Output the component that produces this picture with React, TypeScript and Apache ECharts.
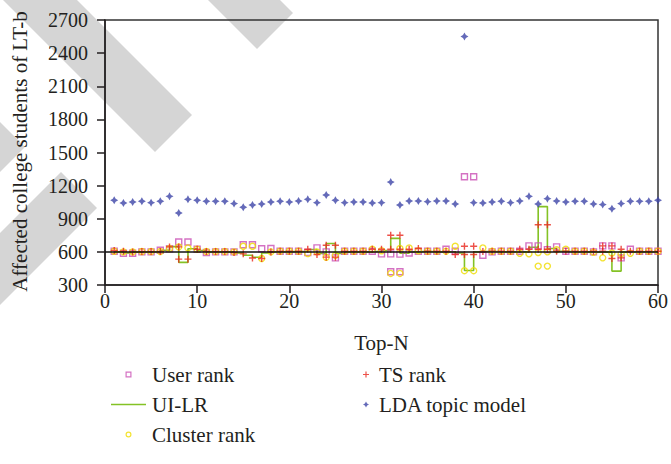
import React, { useEffect, useRef } from "react";
import * as echarts from "echarts";

// ---- data ----
const topN = [
  1, 2, 3, 4, 5, 6, 7, 8, 9, 10, 11, 12, 13, 14, 15, 16, 17, 18, 19, 20,
  21, 22, 23, 24, 25, 26, 27, 28, 29, 30, 31, 32, 33, 34, 35, 36, 37, 38, 39, 40,
  41, 42, 43, 44, 45, 46, 47, 48, 49, 50, 51, 52, 53, 54, 55, 56, 57, 58, 59, 60,
];

const userRank = [
  606, 588, 588, 600, 600, 615, 628, 690, 690, 624,
  594, 600, 600, 600, 665, 665, 628, 630, 606, 606,
  606, 594, 636, 600, 546, 606, 606, 606, 606, 582,
  582, 580, 590, 606, 606, 606, 624, 606, 1280, 1280,
  570, 600, 606, 606, 606, 654, 654, 620, 645, 606,
  606, 606, 600, 654, 654, 546, 624, 606, 606, 606,
];
const userRankExtra = [[31, 420], [32, 420]];

const uiLr = [
  600, 590, 598, 600, 600, 615, 648, 505, 628, 612,
  600, 600, 600, 590, 570, 552, 590, 600, 602, 602,
  605, 622, 585, 676, 585, 600, 600, 600, 605, 612,
  722, 588, 600, 605, 600, 600, 600, 590, 432, 600,
  605, 600, 600, 600, 600, 642, 1010, 630, 605, 600,
  600, 600, 598, 600, 426, 598, 600, 600, 600, 600,
];

const clusterRank = [
  606, 600, 600, 603, 603, 603, 630, 645, 636, 624,
  603, 603, 603, 600, 651, 651, 540, 600, 606, 606,
  606, 585, 600, 552, 570, 606, 606, 606, 624, 610,
  405, 405, 636, 610, 606, 606, 606, 651, 430, 430,
  636, 606, 606, 606, 588, 582, 471, 471, 620, 624,
  606, 606, 596, 546, 590, 582, 588, 606, 606, 606,
];
const clusterRankExtra = [[32, 630], [47, 595], [48, 600]];

const tsRank = [
  612, 606, 600, 603, 603, 603, 645, 534, 534, 624,
  603, 603, 603, 594, 582, 545, 540, 600, 606, 606,
  606, 624, 576, 552, 552, 606, 606, 606, 624, 624,
  750, 750, 624, 630, 606, 606, 606, 576, 576, 576,
  603, 606, 606, 606, 624, 624, 846, 846, 606, 606,
  606, 606, 606, 606, 540, 546, 606, 606, 606, 606,
];
const tsRankExtra = [
  [8, 645], [24, 660], [25, 660], [31, 624], [32, 624], [39, 651], [40, 651],
  [47, 624], [48, 624], [54, 654], [55, 654], [56, 624],
];

const ldaTopic = [
  1067, 1043, 1052, 1058, 1046, 1058, 1103, 952, 1076, 1067,
  1058, 1058, 1058, 1037, 1004, 1025, 1034, 1052, 1058, 1052,
  1061, 1076, 1046, 1115, 1067, 1046, 1052, 1052, 1043, 1046,
  1232, 1025, 1061, 1061, 1055, 1061, 1061, 1034, 2550, 1046,
  1043, 1052, 1058, 1046, 1061, 1103, 1034, 1082, 1061, 1052,
  1058, 1058, 1034, 1028, 990, 1037, 1058, 1058, 1058, 1067,
];

const baselineValue = 600;
const xRange = [0, 60];
const yTicks = [300, 600, 900, 1200, 1500, 1800, 2100, 2400, 2700];

// ---- styling ----
const FONT = "'Liberation Serif', 'Times New Roman', serif";
const TEXT = "#231f20";
const C_USER = "#c94fb4";
const C_UILR = "#84c225";
const C_CLUSTER = "#f0dc00";
const C_TS = "#e8261c";
const C_LDA = "#3d45a8";
const PLUS = "path://M4,0H6V4H10V6H6V10H4V6H0V4H4Z";
const STAR = "path://M5,0L6.8,3.2L10,5L6.8,6.8L5,10L3.2,6.8L0,5L3.2,3.2Z";
const ICON_SQUARE = "path://M0,0H10V10H0Z M2,2V8H8V2Z";
const ICON_RING = "path://M5,0A5,5 0 1,1 5,10A5,5 0 1,1 5,0Z M5,2A3,3 0 1,0 5,8A3,3 0 1,0 5,2Z";
const ICON_LINE = "path://M0,0H70V3H0Z";

const bands = [
  [[3, 0], [77, 0], [192, 115], [155, 152]],
  [[208, 0], [280, 0], [293, 13], [257, 49]],
  [[0, 122], [25, 147], [0, 172]],
  [[0, 233], [61, 172], [97, 208], [0, 305]],
];

const pair = (vals: number[]) => vals.map((v, i) => [topN[i], v]);

export default function App() {
  const ref = useRef<HTMLDivElement>(null);
  useEffect(() => {
    if (!ref.current) return;
    const chart = echarts.init(ref.current, undefined, { renderer: "svg" });
    const textStyle = { fontFamily: FONT, fontSize: 21, color: TEXT, padding: [0, 0, 0, 1] };
    chart.setOption({
      animation: false,
      backgroundColor: "#ffffff",
      graphic: bands.map((pts) => ({
        type: "polygon",
        z: -100,
        silent: true,
        shape: { points: pts },
        style: { fill: "#d5d5d5" },
      })),
      grid: {
        left: 105,
        right: 11,
        top: 20,
        bottom: 179,
        show: true,
        borderColor: "#333",
        borderWidth: 1.5,
        backgroundColor: "transparent",
      },
      legend: [
        {
          data: [
            { name: "User rank", icon: ICON_SQUARE, itemStyle: { color: C_USER, borderWidth: 0 } },
            { name: "UI-LR", icon: ICON_LINE, itemStyle: { color: C_UILR, borderWidth: 0 } },
            { name: "Cluster rank", icon: ICON_RING, itemStyle: { color: C_CLUSTER, borderWidth: 0 } },
          ],
          orient: "vertical",
          left: 106,
          top: 359,
          itemWidth: 35,
          itemHeight: 6,
          itemGap: 9,
          textStyle,
          selectedMode: false,
        },
        {
          data: [
            { name: "TS rank", icon: PLUS, itemStyle: { color: C_TS, borderWidth: 0 } },
            { name: "LDA topic model", icon: STAR, itemStyle: { color: C_LDA, borderWidth: 0 } },
          ],
          orient: "vertical",
          left: 358,
          top: 359,
          itemWidth: 14,
          itemHeight: 6,
          itemGap: 9,
          textStyle,
          selectedMode: false,
        },
      ],
      xAxis: {
        type: "value",
        min: xRange[0],
        max: xRange[1],
        interval: 10,
        name: "Top-N",
        nameLocation: "middle",
        nameGap: 47,
        nameTextStyle: { fontFamily: FONT, fontSize: 21, color: TEXT },
        axisLine: { onZero: false, lineStyle: { color: "#231f20", width: 1.5 } },
        axisTick: { show: true, length: 8, lineStyle: { color: "#231f20", width: 1.5 } },
        axisLabel: { margin: 6, fontFamily: FONT, fontSize: 20, color: TEXT },
        splitLine: { show: false },
      },
      yAxis: {
        type: "value",
        min: yTicks[0],
        max: yTicks[yTicks.length - 1],
        interval: yTicks[1] - yTicks[0],
        name: "Affected college students of LT-b",
        nameLocation: "middle",
        nameGap: 75,
        nameTextStyle: { fontFamily: FONT, fontSize: 21, color: TEXT, padding: [0, 0, 0, 2] },
        axisLine: { onZero: false, lineStyle: { color: "#231f20", width: 1.5 } },
        axisTick: { show: true, length: 8, lineStyle: { color: "#231f20", width: 1.5 } },
        axisLabel: {
          margin: 17,
          fontFamily: FONT,
          fontSize: 20,
          color: TEXT,
          formatter: (v: number) => String(v),
        },
        splitLine: { show: false },
      },
      series: [
        {
          name: "UI-LR",
          type: "line",
          step: "end",
          symbol: "none",
          showSymbol: false,
          data: pair(uiLr),
          lineStyle: { color: C_UILR, width: 1.6 },
          itemStyle: { color: C_UILR },
          z: 2,
        },
        {
          name: "User rank",
          type: "scatter",
          symbol: "rect",
          symbolSize: 6,
          data: [...pair(userRank), ...userRankExtra],
          itemStyle: { color: "rgba(255,255,255,0)", borderColor: C_USER, borderWidth: 1.4 },
          z: 3,
        },
        {
          name: "Cluster rank",
          type: "scatter",
          symbol: "circle",
          symbolSize: 6,
          data: [...pair(clusterRank), ...clusterRankExtra],
          itemStyle: { color: "rgba(255,255,255,0)", borderColor: C_CLUSTER, borderWidth: 1.4 },
          z: 3,
        },
        {
          name: "TS rank",
          type: "scatter",
          symbol: PLUS,
          symbolSize: 7,
          data: [...pair(tsRank), ...tsRankExtra],
          itemStyle: { color: C_TS },
          z: 4,
        },
        {
          name: "LDA topic model",
          type: "scatter",
          symbol: STAR,
          symbolSize: 8,
          data: pair(ldaTopic),
          itemStyle: { color: C_LDA },
          z: 4,
        },
        {
          name: "baseline",
          type: "line",
          symbol: "none",
          silent: true,
          data: [[xRange[0], baselineValue], [xRange[1], baselineValue]],
          lineStyle: { color: "#111", width: 1.5 },
          z: 5,
        },
      ],
    });
    return () => chart.dispose();
  }, []);
  return (
    <div
      ref={ref}
      style={{ position: "fixed", left: 0, top: 0, width: 671, height: 464, background: "#fff" }}
    />
  );
}
